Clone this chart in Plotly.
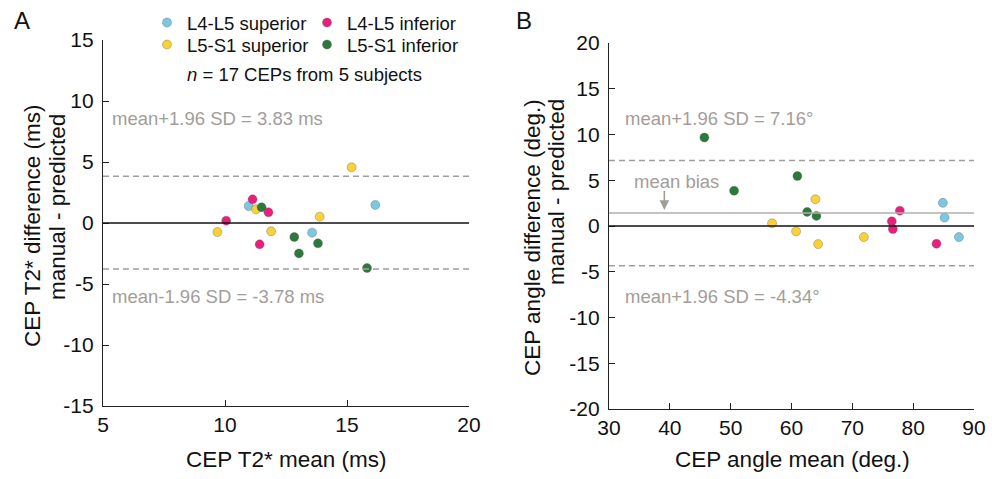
import plotly.graph_objects as go

# ---------------- data ----------------
groups = ["L4-L5 superior", "L4-L5 inferior", "L5-S1 superior", "L5-S1 inferior"]
colors = ["#7cc8e2", "#e81f7c", "#fbd235", "#2b7a3b"]

# Panel A: CEP T2* (ms)  mean vs difference
a_mean_l45s = [10.97, 13.57, 16.16]
a_diff_l45s = [1.39, -0.79, 1.48]
a_mean_l45i = [11.13, 11.78, 10.05, 11.42]
a_diff_l45i = [1.94, 0.88, 0.19, -1.75]
a_mean_l5s1s = [15.19, 11.27, 9.69, 11.89, 13.88]
a_diff_l5s1s = [4.57, 1.12, -0.74, -0.68, 0.52]
a_mean_l5s1i = [11.50, 12.84, 13.81, 13.03, 15.82]
a_diff_l5s1i = [1.29, -1.15, -1.67, -2.49, -3.69]

# Panel B: CEP angle (deg.) mean vs difference
b_mean_l45s = [84.88, 85.16, 87.52]
b_diff_l45s = [2.53, 0.92, -1.21]
b_mean_l45i = [76.49, 76.66, 77.81, 83.83]
b_diff_l45i = [0.51, -0.33, 1.68, -1.94]
b_mean_l5s1s = [63.93, 56.81, 60.76, 64.38, 71.89]
b_diff_l5s1s = [2.93, 0.29, -0.59, -1.98, -1.21]
b_mean_l5s1i = [45.68, 50.56, 60.97, 62.57, 64.10]
b_diff_l5s1i = [9.67, 3.85, 5.46, 1.54, 1.10]

loa_a = [3.83, -3.78]
loa_b = [7.16, -4.34]
bias_b = 1.41

a_xticks = [5, 10, 15, 20]
a_yticks = [-15, -10, -5, 0, 5, 10, 15]
b_xticks = [30, 40, 50, 60, 70, 80, 90]
b_yticks = [-20, -15, -10, -5, 0, 5, 10, 15, 20]

# ---------------- figure ----------------
FONT = "Liberation Sans, Arial, sans-serif"
GREY = "#a39d99"
W, H = 992, 479

fig = go.Figure()

a_sets = [(a_mean_l45s, a_diff_l45s), (a_mean_l45i, a_diff_l45i),
          (a_mean_l5s1s, a_diff_l5s1s), (a_mean_l5s1i, a_diff_l5s1i)]
b_sets = [(b_mean_l45s, b_diff_l45s), (b_mean_l45i, b_diff_l45i),
          (b_mean_l5s1s, b_diff_l5s1s), (b_mean_l5s1i, b_diff_l5s1i)]
legend_of = ["legend", "legend", "legend2", "legend2"]

for i, g in enumerate(groups):
    mk = dict(color=colors[i], size=9, line=dict(width=0.6, color="rgba(90,90,90,0.6)"))
    fig.add_trace(go.Scatter(x=a_sets[i][0], y=a_sets[i][1], mode="markers", name=g,
                             marker=mk, xaxis="x", yaxis="y", legend=legend_of[i],
                             showlegend=True))
    fig.add_trace(go.Scatter(x=b_sets[i][0], y=b_sets[i][1], mode="markers", name=g,
                             marker=mk, xaxis="x2", yaxis="y2", showlegend=False))

def px_x(p):
    return p / W

def px_y(p):
    return 1 - p / H

def labels(ticks):
    return [str(t) for t in ticks]  # plain hyphen minus as in the original

axis_common = dict(showgrid=False, zeroline=False, showline=True, linecolor="#222",
                   linewidth=1.3, ticks="inside", ticklen=6, tickwidth=1.3, tickcolor="#222",
                   tickfont=dict(family=FONT, size=21, color="#111"), mirror=False)

leg_common = dict(orientation="h", xanchor="left", yanchor="middle", entrywidth=115,
                  font=dict(family=FONT, size=18.5, color="#111"),
                  bgcolor="rgba(0,0,0,0)", itemclick=False, itemdoubleclick=False)

fig.update_layout(
    width=W, height=H, margin=dict(l=0, r=0, t=0, b=0, autoexpand=False),
    paper_bgcolor="white", plot_bgcolor="white",
    font=dict(family=FONT, color="#111"),
    xaxis=dict(domain=[px_x(103), px_x(469)], range=[5, 20], tickvals=a_xticks,
               ticktext=labels(a_xticks), anchor="y", **axis_common),
    yaxis=dict(domain=[px_y(406), px_y(40)], range=[-15, 15], tickvals=a_yticks,
               ticktext=labels(a_yticks), anchor="x", ticklabelstandoff=4, **axis_common),
    xaxis2=dict(domain=[px_x(609), px_x(974)], range=[30, 90], tickvals=b_xticks,
                ticktext=labels(b_xticks), anchor="y2", **axis_common),
    yaxis2=dict(domain=[px_y(409), px_y(43)], range=[-20, 20], tickvals=b_yticks,
                ticktext=labels(b_yticks), anchor="x2", ticklabelstandoff=4, **axis_common),
    legend=dict(x=px_x(147), y=px_y(23), **leg_common),
    legend2=dict(x=px_x(147), y=px_y(45), **leg_common),
)

# reference lines
shapes = []
for xr, yr, loas in [("x", "y", loa_a), ("x2", "y2", loa_b)]:
    shapes.append(dict(type="line", xref=f"{xr} domain", yref=yr, x0=0, x1=1, y0=0, y1=0,
                       line=dict(color="#111", width=1.5)))
    for v in loas:
        shapes.append(dict(type="line", xref=f"{xr} domain", yref=yr, x0=0, x1=1, y0=v, y1=v,
                           line=dict(color=GREY, width=1.5, dash="6px,4px")))
shapes.append(dict(type="line", xref="x2 domain", yref="y2", x0=0, x1=1, y0=bias_b, y1=bias_b,
                   line=dict(color="#b3aeaa", width=1.5)))
fig.update_layout(shapes=shapes)

ann = []
def txt(text, x, y, size=18.5, color=GREY, xanchor="left", xref="paper", yref="paper", **kw):
    ann.append(dict(text=text, x=x, y=y, xref=xref, yref=yref, showarrow=False,
                    xanchor=xanchor, yanchor="middle",
                    font=dict(family=FONT, size=size, color=color), **kw))

# panel A LoA labels
txt(f"mean+1.96 SD = {loa_a[0]:.2f} ms", px_x(110), px_y(118))
txt(f"mean-1.96 SD = {loa_a[1]:.2f} ms", px_x(110), px_y(296))
# panel B LoA labels
txt(f"mean+1.96 SD = {loa_b[0]:.2f}°", px_x(623), px_y(118))
txt(f"mean+1.96 SD = {loa_b[1]:.2f}°", px_x(623), px_y(296))
txt("mean bias", px_x(632), px_y(181))
# arrow for mean bias
ann.append(dict(x=39.1, y=bias_b + 0.35, xref="x2", yref="y2", ax=39.1, ay=bias_b + 2.6,
                axref="x2", ayref="y2", text="", showarrow=True, arrowhead=2, arrowsize=1.2,
                arrowwidth=1.6, arrowcolor=GREY))

# n annotation
txt("<i>n</i> = 17 CEPs from 5 subjects", px_x(185), px_y(75), color="#111")

# panel letters
txt("A", px_x(12), px_y(21), size=24, color="#111")
txt("B", px_x(514), px_y(21), size=24, color="#111")

# axis titles
txt("CEP T2* mean (ms)", px_x(286), px_y(459), size=22.5, color="#111", xanchor="center")
txt("CEP angle mean (deg.)", px_x(792), px_y(459), size=22.5, color="#111", xanchor="center")
txt("CEP T2* difference (ms)", px_x(32), px_y(226), size=22.5, color="#111", xanchor="center",
    textangle=-90)
txt("manual - predicted", px_x(57), px_y(207), size=22.5, color="#111", xanchor="center",
    textangle=-90)
txt("CEP angle difference (deg.)", px_x(532), px_y(238), size=22.5, color="#111",
    xanchor="center", textangle=-90)
txt("manual - predicted", px_x(556), px_y(192), size=22.5, color="#111", xanchor="center",
    textangle=-90)

fig.update_layout(annotations=ann)
fig.write_html("out.html", config={"displayModeBar": False},
               post_script="document.body.style.margin='0';")
